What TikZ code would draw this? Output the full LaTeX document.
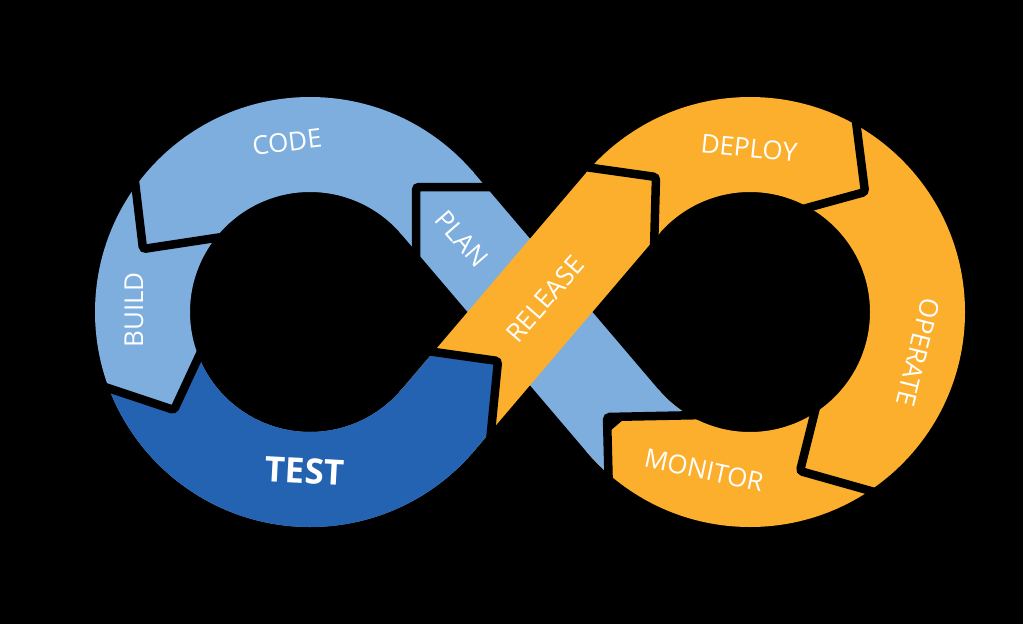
\documentclass[tikz,border=0pt]{standalone}
\usepackage{fontspec}
\setmainfont{Open Sans}
\definecolor{lb}{RGB}{125,174,222}
\definecolor{db}{RGB}{35,99,177}
\definecolor{org}{RGB}{251,175,45}
\tikzset{
  lbl/.style={text=white, inner sep=0pt, font=\fontsize{26}{30}\selectfont},
  gapline/.style={draw=black, line width=8.5pt, line join=miter, rounded corners=3pt},
  leftsector/.style={insert path={(310,312) -- (614.56,52.68) -- (-50,-150) -- (-50,774) -- (614.56,571.32) -- cycle}},
  rightsector/.style={insert path={(750,312) -- (445.44,52.68) -- (1073,-150) -- (1073,774) -- (445.44,571.32) -- cycle}}
}
\begin{document}
\begin{tikzpicture}[x=1pt,y=-1pt]
\useasboundingbox (0,0) rectangle (1023,624);
\fill[black] (0,0) rectangle (1023,624);
% right ring (orange)
\begin{scope}
  \clip[rightsector];
  \fill[org,even odd rule] (750,312) circle[radius=215] (750,312) circle[radius=120];
\end{scope}
% left ring (light blue)
\begin{scope}
  \clip[leftsector];
  \fill[lb,even odd rule] (310,312) circle[radius=215] (310,312) circle[radius=120];
\end{scope}
% blue diagonal band (PLAN)
\begin{scope}
  \clip (-10,-10) -- (1033,-10) -- (1033,415) -- (700,415) -- (607,417) -- (609,650) -- (-10,650) -- cycle;
  \fill[lb] (471.75,170.33) -- (660.58,392.08) -- (588.25,453.67) -- (399.42,231.92) -- cycle;
\end{scope}
\begin{scope}
  \clip (520,312) -- (700,312) -- (700,415) -- (607,417) -- (609,650) -- (520,650) -- cycle;
  \clip[rightsector];
  \fill[lb,even odd rule] (750,312) circle[radius=215] (750,312) circle[radius=120];
\end{scope}
% orange diagonal band (RELEASE)
\fill[org] (399.42,392.08) -- (588.25,170.33) -- (660.58,231.92) -- (471.75,453.67) -- cycle;
% TEST (dark blue)
\begin{scope}
  \clip (90,382) -- (174,410) -- (215.5,320) -- (420,330) -- (426,351) -- (498,361) -- (488.2,460) -- (488.2,650) -- (90,650) -- cycle;
  \fill[db] (399.42,392.08) -- (588.25,170.33) -- (660.58,231.92) -- (471.75,453.67) -- cycle;
  \clip[leftsector];
  \fill[db,even odd rule] (310,312) circle[radius=215] (310,312) circle[radius=120];
\end{scope}
% gaps between segments
\draw[gapline] (416,262) -- (416,187) -- (495,187);
\draw[gapline] (133,165) -- (143,249) -- (222,237);
\draw[gapline] (90,382) -- (174,410) -- (206,341);
\draw[gapline] (420,350) -- (498,361) -- (488.5,457);
\draw[gapline] (578,166) -- (656,177) -- (654,250);
\draw[gapline] (853,98) -- (865,192) -- (803,209);
\draw[gapline] (819,395) -- (800,471) -- (885,495);
\draw[gapline] (705,415) -- (607,417) -- (609,495);
% labels
\node[lbl, rotate=7] (code) at (287,142) {CODE};
\node[lbl, rotate=90] (build) at (134,310) {BUILD};
\node[lbl, rotate=-3, font=\fontsize{35}{40}\selectfont\bfseries] (test) at (305,471) {TEST};
\node[lbl, rotate=-49] (plan) at (462,239) {PLAN};
\node[lbl, rotate=49] (release) at (545,299) {RELEASE};
\node[lbl, rotate=-6] (deploy) at (749,148) {DEPLOY};
\node[lbl, rotate=-104] (operate) at (918,352) {OPERATE};
\node[lbl, rotate=-12] (monitor) at (704,470) {MONITOR};
\end{tikzpicture}
\end{document}
